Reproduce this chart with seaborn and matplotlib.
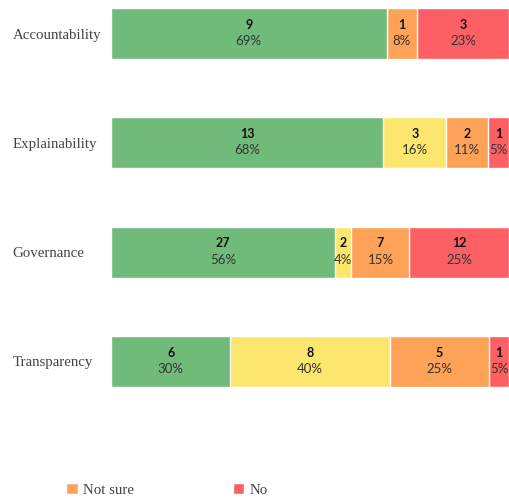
import matplotlib
matplotlib.use("Agg")
import matplotlib.pyplot as plt
from matplotlib.patches import Patch
import seaborn as sns
import numpy as np
import pandas as pd

categories = ["Accountability", "Explainability", "Governance", "Transparency"]
series_names = ["Yes", "Partially", "Not sure", "No"]
yes_vals = [9, 13, 27, 6]
partially_vals = [0, 3, 2, 8]
notsure_vals = [1, 2, 7, 5]
no_vals = [3, 1, 12, 1]
colors = ["#70bb79", "#fde66d", "#fda257", "#fd6064"]

sns.set_theme(style="white")
plt.rcParams["font.family"] = ["Lato", "DejaVu Sans"]

counts = np.array([yes_vals, partially_vals, notsure_vals, no_vals], dtype=float)
totals = counts.sum(axis=0)
pcts = counts / totals * 100
cums = np.cumsum(pcts, axis=0)

fig = plt.figure(figsize=(5.10, 4.99), dpi=100)
ax = fig.add_axes([111 / 510, (499 - 420) / 499, 398 / 510, 420 / 499])

# draw cumulative layers from the outermost to innermost
for i in range(len(series_names) - 1, -1, -1):
    df = pd.DataFrame({"cat": categories, "val": cums[i]})
    sns.barplot(data=df, x="val", y="cat", orient="h", color=colors[i],
                width=0.467, edgecolor="white", linewidth=1.0,
                saturation=1, ax=ax)

for j, cat in enumerate(categories):
    for i in range(len(series_names)):
        c = counts[i, j]
        if c <= 0:
            continue
        left = cums[i, j] - pcts[i, j]
        xc = left + pcts[i, j] / 2
        ax.text(xc, j - 0.08, f"{int(c)}", ha="center", va="center",
                fontsize=9, fontweight="bold", color="#111111")
        ax.text(xc, j + 0.07, f"{round(pcts[i, j]):.0f}%", ha="center", va="center",
                fontsize=9.5, color="#333333")

ax.set_xlim(0, 100)
ax.set_ylim(3.536, -0.3065)
ax.set_xlabel("")
ax.set_ylabel("")
ax.set_xticks([])
ax.tick_params(axis="y", length=0, pad=71)
for lab in ax.get_yticklabels():
    lab.set_family(["Liberation Serif", "DejaVu Serif"])
    lab.set_fontsize(10.7)
    lab.set_color("#444444")
    lab.set_horizontalalignment("left")
for s in ax.spines.values():
    s.set_visible(False)

handles = [Patch(facecolor=colors[2], label=series_names[2]),
           Patch(facecolor=colors[3], label=series_names[3])]
fig.legend(handles=handles, loc="center left", bbox_to_anchor=(53 / 510, 9 / 499),
           ncol=2, frameon=False, handlelength=0.75, handleheight=0.75,
           columnspacing=6.6, handletextpad=0.4,
           prop={"family": ["Liberation Serif", "DejaVu Serif"], "size": 10.7},
           labelcolor="#444444")

fig.savefig("out.png", dpi=100)
